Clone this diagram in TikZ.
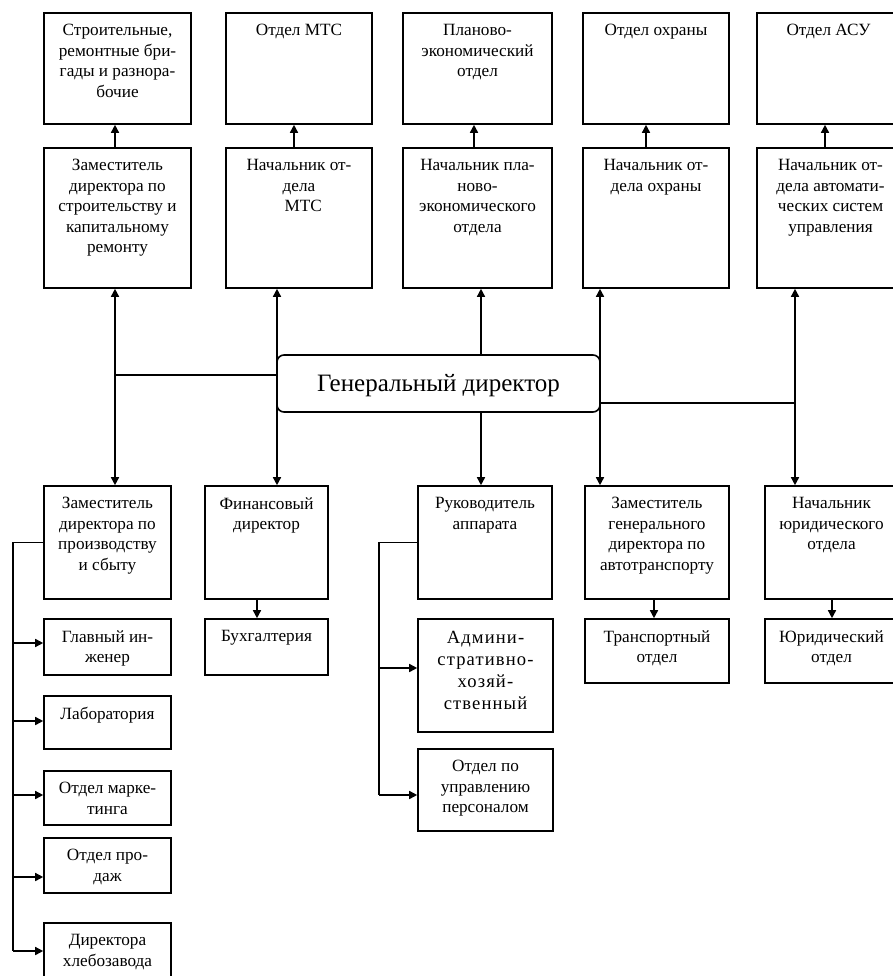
\documentclass[tikz,border=0pt]{standalone}
\usepackage{fontspec}
\setmainfont{Liberation Serif}
\newfontfamily\admfont[LetterSpace=6]{Liberation Serif}
\usetikzlibrary{arrows.meta,fit}
\tikzset{
  box/.style={draw, line width=1.6pt, inner sep=0pt},
  txt/.style={inner sep=0pt, align=center, anchor=north, font=\fontsize{17.2}{20.5}\selectfont},
  ln/.style={line width=1.5pt},
  arr/.style={line width=1.5pt, -{Triangle[length=8pt,width=8pt]}},
  arrb/.style={line width=1.5pt, {Triangle[length=8pt,width=8pt]}-{Triangle[length=8pt,width=8pt]}},
}
\newcommand{\bx}[6]{%
  \node[box, fit={(#2,#3) (#4,#5)}] (#1) {};
  \node[txt] (#1t) at ([yshift=-12pt]#1.north) {#6};}
\begin{document}
\begin{tikzpicture}[x=1pt,y=-1pt]
\clip (0,0) rectangle (893,976);
\fill[white] (0,0) rectangle (893,976);
% row 1
\bx{r1a}{44}{13}{191}{124}{Строительные,\\ремонтные бри-\\гады и разнора-\\бочие}
\bx{r1b}{226}{13}{372}{124}{Отдел МТС}
\bx{r1c}{403}{13}{552}{124}{Планово-\\экономический\\отдел}
\bx{r1d}{583}{13}{729}{124}{Отдел охраны}
\bx{r1e}{757}{13}{900}{124}{Отдел АСУ}
% row 2
\bx{r2a}{44}{148}{191}{288}{Заместитель\\директора по\\строительству и\\капитальному\\ремонту}
\bx{r2b}{226}{148}{372}{288}{Начальник от-\\дела\\\ \ МТС}
\bx{r2c}{403}{148}{552}{288}{Начальник пла-\\ново-\\экономического\\отдела}
\bx{r2d}{583}{148}{729}{288}{Начальник от-\\дела охраны}
\bx{r2e}{757}{148}{904}{288}{Начальник от-\\дела автомати-\\ческих систем\\управления}
% general director
\node[draw, line width=1.6pt, rounded corners=7pt, inner sep=0pt, fit={(277,355) (600,412)}] (gen) {};
\node[inner sep=0pt, font=\fontsize{25}{29}\selectfont] (gent) at ([yshift=-2.5pt]gen.center) {Генеральный директор};
% row 3
\bx{zp}{44}{486}{171}{599}{Заместитель\\директора по\\производству\\и сбыту}
\bx{fin}{205}{486}{328}{599}{Финансовый\\директор}
\bx{ruk}{418}{486}{552}{599}{Руководитель\\аппарата}
\bx{zg}{585}{486}{729}{599}{Заместитель\\генерального\\директора по\\автотранспорту}
\bx{yu}{765}{486}{898}{599}{Начальник\\юридического\\отдела}
% row 4
\bx{buh}{205}{619}{328}{675}{Бухгалтерия}
\bx{tr}{585}{619}{729}{683}{Транспортный\\отдел}
\bx{yo}{765}{619}{898}{683}{Юридический\\отдел}
% left column
\bx{gi}{44}{619}{171}{675}{Главный ин-\\женер}
\bx{lab}{44}{696}{171}{749}{Лаборатория}
\bx{mark}{44}{771}{171}{825}{Отдел марке-\\тинга}
\bx{prod}{44}{838}{171}{893}{Отдел про-\\даж}
\bx{hleb}{44}{923}{171}{995}{Директора\\хлебозавода}
% middle column
\node[box, fit={(418,619) (553,732)}] (adm) {};
\node[txt, font=\admfont\fontsize{18.6}{22}\selectfont] (admt) at ([yshift=-13pt]adm.north) {Админи-\\стративно-\\хозяй-\\ственный};
\bx{per}{418}{749}{553}{831}{Отдел по\\управлению\\персоналом}
% helper coordinates
\coordinate (t1) at (115,0);
\coordinate (t2) at (294,0);
\coordinate (t3) at (474,0);
\coordinate (t4) at (646,0);
\coordinate (t5) at (825,0);
\coordinate (xa) at (115,0);
\coordinate (xb) at (277,0);
\coordinate (xc) at (481,0);
\coordinate (xd) at (600,0);
\coordinate (xe) at (795,0);
\coordinate (hl) at (0,375);
\coordinate (hr) at (0,403);
\coordinate (b1) at (257,0);
\coordinate (b2) at (654,0);
\coordinate (b3) at (832,0);
\coordinate (lb) at (13,0);
\coordinate (mb) at (379,0);
\coordinate (ya1) at (0,643);
\coordinate (ya2) at (0,721);
\coordinate (ya3) at (0,795);
\coordinate (ya4) at (0,877);
\coordinate (ya5) at (0,951);
\coordinate (ym1) at (0,668);
\coordinate (ym2) at (0,795);
% top arrows
\draw[arr] (r2a.north -| t1) -- (r1a.south -| t1);
\draw[arr] (r2b.north -| t2) -- (r1b.south -| t2);
\draw[arr] (r2c.north -| t3) -- (r1c.south -| t3);
\draw[arr] (r2d.north -| t4) -- (r1d.south -| t4);
\draw[arr] (r2e.north -| t5) -- (r1e.south -| t5);
% connections around general director
\draw[ln] (gen.west |- hl) -- (xa |- hl);
\draw[arrb] (r2a.south -| xa) -- (zp.north -| xa);
\draw[arrb] (r2b.south -| xb) -- (fin.north -| xb);
\draw[arr] (gen.north -| xc) -- (r2c.south -| xc);
\draw[arr] (gen.south -| xc) -- (ruk.north -| xc);
\draw[arrb] (r2d.south -| xd) -- (zg.north -| xd);
\draw[ln] (gen.east |- hr) -- (xe |- hr);
\draw[arrb] (r2e.south -| xe) -- (yu.north -| xe);
% lower arrows
\draw[arr] (fin.south -| b1) -- (buh.north -| b1);
\draw[arr] (zg.south -| b2) -- (tr.north -| b2);
\draw[arr] (yu.south -| b3) -- (yo.north -| b3);
% left bus
\draw[ln] (zp.west) -- (lb |- zp.west) -- (lb |- ya5);
\draw[arr] (lb |- ya1) -- (gi.west |- ya1);
\draw[arr] (lb |- ya2) -- (lab.west |- ya2);
\draw[arr] (lb |- ya3) -- (mark.west |- ya3);
\draw[arr] (lb |- ya4) -- (prod.west |- ya4);
\draw[arr] (lb |- ya5) -- (hleb.west |- ya5);
% middle bus
\draw[ln] (ruk.west) -- (mb |- ruk.west) -- (mb |- ym2);
\draw[arr] (mb |- ym1) -- (adm.west |- ym1);
\draw[arr] (mb |- ym2) -- (per.west |- ym2);
\end{tikzpicture}
\end{document}
